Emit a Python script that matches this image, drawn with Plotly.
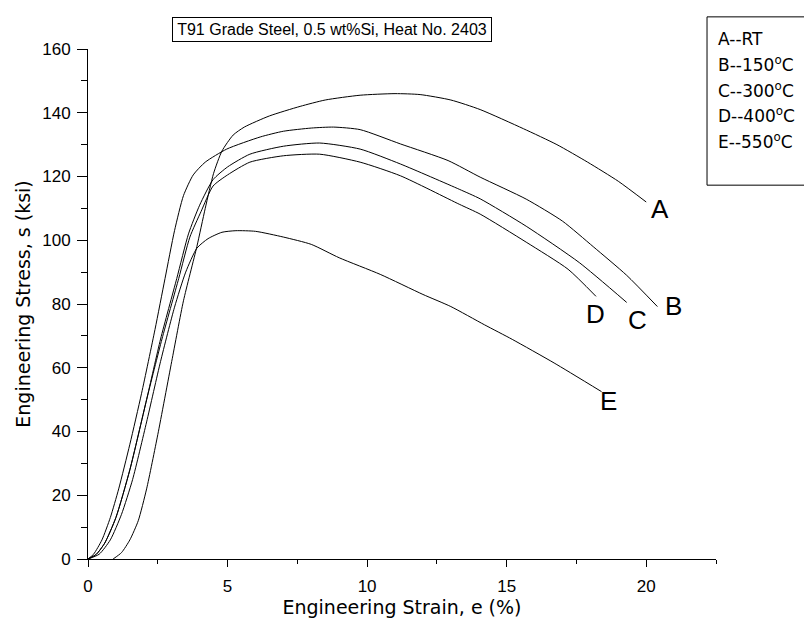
import plotly.graph_objects as go

# Strain (%) / stress (ksi) readings for each test temperature
a_x = [0.9, 1.2, 1.5, 1.8, 2.1, 2.5, 3.0, 3.42, 3.9, 4.2, 4.5, 4.8, 5.2, 5.6, 6.5, 7.6, 8.5, 9.75, 11.0, 11.9, 13.0, 14.05, 15.6, 16.8, 17.9, 19.0, 20.0]
a_y = [0, 2, 6, 12, 22, 39, 62, 81, 98, 110, 121, 128, 133, 135.5, 139, 142, 144, 145.5, 146, 145.7, 144, 141, 135, 130, 124.5, 118.5, 112]

b_x = [0, 0.2, 0.5, 0.8, 1.1, 1.5, 1.92, 2.4, 2.76, 3.1, 3.42, 3.77, 4.2, 4.97, 6.17, 7.0, 8.0, 8.8, 9.75, 11.2, 12.9, 14.05, 15.7, 17.0, 18.1, 19.3, 20.4]
b_y = [0, 1.5, 6, 13, 22, 36, 52, 72, 88, 103, 114, 120.5, 124.5, 128.6, 132.4, 134.2, 135.2, 135.5, 134.7, 130.2, 125, 119.8, 112.9, 106, 98, 89, 79.2]

c_x = [0, 0.3, 0.6, 1.0, 1.5, 2.1, 2.6, 3.18, 3.6, 4.0, 4.48, 5.0, 5.8, 7.0, 8.3, 9.75, 11.2, 13.3, 14.05, 15.7, 17.6, 19.3]
c_y = [0, 1.5, 5, 13, 28, 50, 69, 88, 102, 111, 119, 123, 127, 129.5, 130.5, 128.6, 123.9, 116, 113, 104.4, 93, 80.5]

d_x = [0, 0.3, 0.6, 1.0, 1.5, 2.1, 2.65, 3.25, 3.65, 4.05, 4.48, 5.0, 5.8, 7.0, 8.3, 9.75, 11.2, 13.3, 14.05, 15.7, 17.2, 18.2]
d_y = [0, 1.5, 5, 13, 28, 50, 69, 88, 101, 109, 117, 120.5, 124.5, 126.5, 127, 124.5, 120.2, 111.3, 108.2, 99.4, 90.9, 82.4]

e_x = [0, 0.4, 0.8, 1.2, 1.6, 2.1, 2.6, 3.1, 3.5, 3.9, 4.3, 4.8, 5.3, 6.0, 7.0, 8.0, 9.0, 10.47, 12.0, 13.0, 14.2, 15.2, 16.7, 18.4]
e_y = [0, 1.5, 6, 14, 25, 43, 62, 79, 90, 97.5, 100.5, 102.5, 103, 102.8, 101, 98.7, 94.5, 89.3, 83, 79.2, 73.5, 68.9, 61.5, 52.5]

curve_labels = ["A", "B", "C", "D", "E"]
label_x = [20.5, 20.96, 19.68, 18.17, 18.64]
label_y = [109.7, 79.3, 74.9, 77.0, 49.5]

legend_lines = ["A--RT", "B--150<sup>o</sup>C", "C--300<sup>o</sup>C", "D--400<sup>o</sup>C", "E--550<sup>o</sup>C"]
title_text = "T91 Grade Steel, 0.5 wt%Si, Heat No. 2403"

FONT = "Liberation Sans, Arial, sans-serif"
WIDE = "DejaVu Sans, sans-serif"

fig = go.Figure()
for xs, ys, name in zip([a_x, b_x, c_x, d_x, e_x], [a_y, b_y, c_y, d_y, e_y], curve_labels):
    fig.add_trace(go.Scatter(x=xs, y=ys, mode="lines", name=name,
                             line=dict(color="black", width=1, shape="spline", smoothing=0.6),
                             showlegend=False))

for lab, lx, ly in zip(curve_labels, label_x, label_y):
    fig.add_annotation(x=lx, y=ly, xref="x", yref="y", text=lab, showarrow=False,
                       font=dict(family=FONT, size=26, color="black"))

# title box
fig.add_annotation(x=0.389, y=1.039, xref="paper", yref="paper", text=title_text,
                   showarrow=False, font=dict(family=FONT, size=16, color="black"),
                   bordercolor="black", borderwidth=1, borderpad=3, bgcolor="white",
                   width=312, xanchor="center", yanchor="middle")

# legend box (cut at right edge)
fig.add_shape(type="rect", xref="paper", yref="paper", x0=0.9857, x1=1.3, y0=0.733, y1=1.063,
              line=dict(color="black", width=1))
leg_py = [39, 64, 90, 115, 141]
for txt, py in zip(legend_lines, leg_py):
    fig.add_annotation(x=1.0, y=(559 - py) / 510, xref="paper", yref="paper", text=txt,
                       showarrow=False, xanchor="left", yanchor="middle",
                       font=dict(family=WIDE, size=17, color="black"))

fig.update_layout(
    width=804, height=620,
    margin=dict(l=88, r=88, t=49, b=61),
    plot_bgcolor="white", paper_bgcolor="white",
    font=dict(family=FONT, size=17, color="black"),
    xaxis=dict(range=[0, 22.5], showgrid=False, zeroline=False, showline=True, linecolor="black",
               linewidth=1, ticks="outside", ticklen=7, tickcolor="black", dtick=5, tick0=0,
               minor=dict(ticks="outside", ticklen=4, dtick=2.5, tickcolor="black"),
               ticklabelstandoff=5, automargin=False,
               title=dict(text="Engineering Strain, e (%)", font=dict(family=WIDE, size=19), standoff=2),
               tickfont=dict(size=17)),
    yaxis=dict(range=[0, 160], showgrid=False, zeroline=False, showline=True, linecolor="black",
               linewidth=1, ticks="outside", ticklen=10, tickcolor="black", dtick=20, tick0=0,
               minor=dict(ticks="outside", ticklen=6, dtick=10, tickcolor="black"),
               ticklabelstandoff=3, automargin=False,
               title=dict(text="Engineering Stress, s (ksi)", font=dict(family=WIDE, size=19), standoff=6),
               tickfont=dict(size=17)),
)

fig.write_html("out.html")
